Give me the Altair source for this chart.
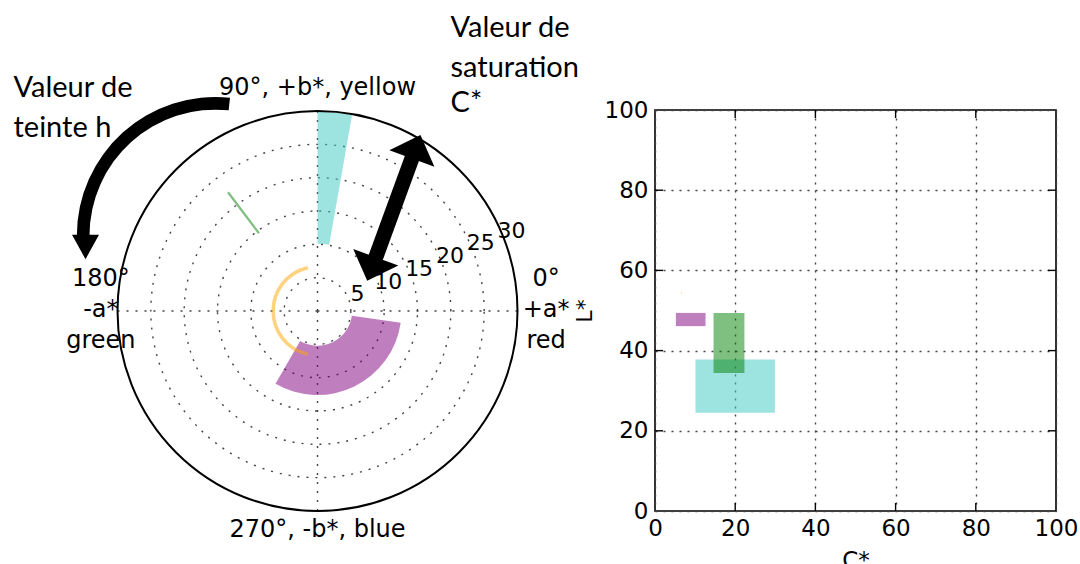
import math
import altair as alt
import pandas as pd

# ---------------- data ----------------
sample = ["turquoise", "purple", "green", "orange"]
hue_min = [80, 240, 127, 104]          # h (deg)
hue_max = [90, 352, 127, 256]
chroma_min = [10.1, 5.2, 14.6, 6.55]   # C*
chroma_max = [29.9, 12.6, 22.3, 6.75]
light_min = [24.5, 46.1, 34.4, 54.2]   # L*
light_max = [37.8, 49.4, 49.4, 54.6]
sample_color = ["#3cc8c0", "#800080", "#008000", "#ffa500"]
wedge_samples = ["turquoise", "purple"]
line_samples = ["green", "orange"]

# polar axis
radial_ticks = [5, 10, 15, 20, 25, 30]
radial_label_angle = 22.5
side_tick_angles = [0, 180]
side_tick_labels = ["0°\n+a*\nred", "180°\n-a*\ngreen"]
side_label_radius = [34.3, 32.5]
vert_tick_angles = [90, 270]
vert_tick_labels = ["90°, +b*, yellow", "270°, -b*, blue"]
vert_label_radius = [33.4, 32.8]
spoke_angles = [0, 90, 180, 270]

# cartesian axes
c_ticks = [0, 20, 40, 60, 80, 100]
l_ticks = [0, 20, 40, 60, 80, 100]
inner_ticks = [20, 40, 60, 80]

# annotations, in (a*, b*) coordinates of the polar panel
ann_text = ["Valeur de", "teinte h", "Valeur de", "saturation", "C*"]
ann_a = [-45.6, -45.6, 19.95, 19.95, 19.95]
ann_b = [32.1, 26.1, 41.1, 35.1, 29.9]

hue_arrow = dict(a=[-15.3], b=[11.3], h0=[84], h1=[180], r0=[18.9], r1=[20.8])
hue_arrow_head = dict(a=[-34.8], b=[9.6], ang=[0])
sat_arrow_shaft = dict(a0=[14.8], b0=[24.64], a1=[8.1], b1=[6.3])
sat_arrow_heads = dict(a=[14.8, 8.1], b=[24.64, 6.3], ang=[20.1, 200.1])

# ---------------- scales ----------------
VIEW_X, VIEW_Y = 655, 110   # page position of the C*/L* plot area
polar_x = alt.Scale(domain=[-30, 30], range=[117.5 - VIEW_X, 517.5 - VIEW_X], nice=False, zero=False)
polar_y = alt.Scale(domain=[-30, 30], range=[511 - VIEW_Y, 111 - VIEW_Y], nice=False, zero=False)
theta_sc = alt.Scale(domain=[0, 360], range=[math.pi / 2, math.pi / 2 - 2 * math.pi], nice=False, zero=False)
rad_sc = alt.Scale(type="linear", domain=[0, 30], range=[0, 200], nice=False, zero=True)
cx_scale = alt.Scale(domain=[0, 100], nice=False, zero=False)
ly_scale = alt.Scale(domain=[0, 100], nice=False, zero=False)
color_sc = alt.Scale(domain=sample, range=sample_color)

FONT = "DejaVu Sans"

df = pd.DataFrame(dict(name=sample, h0=hue_min, h1=hue_max, c0=chroma_min, c1=chroma_max,
                       l0=light_min, l1=light_max))
df["ca"] = 0
df["cb"] = 0


def centre():
    return dict(x=alt.X("ca:Q", scale=polar_x, axis=None), y=alt.Y("cb:Q", scale=polar_y, axis=None))


def pxy(xf, yf):
    return dict(x=alt.X(xf, scale=polar_x, axis=None), y=alt.Y(yf, scale=polar_y, axis=None))


# ---------------- polar panel ----------------
gdf = pd.DataFrame({"r": radial_ticks})
gdf["h0"] = 0
gdf["h1"] = 360
gdf["ca"] = 0
gdf["cb"] = 0

grid_circles = alt.Chart(gdf).transform_filter("datum.r < 30").mark_arc(
    fillOpacity=0, stroke="#444444", strokeWidth=1.4, strokeDash=[2, 7]
).encode(
    theta=alt.Theta("h0:Q", scale=theta_sc, stack=False), theta2="h1:Q",
    radius=alt.Radius("r:Q", scale=rad_sc, stack=False), **centre()
)
outer_circle = alt.Chart(gdf).transform_filter("datum.r >= 30").mark_arc(
    fillOpacity=0, stroke="black", strokeWidth=2
).encode(
    theta=alt.Theta("h0:Q", scale=theta_sc, stack=False), theta2="h1:Q",
    radius=alt.Radius("r:Q", scale=rad_sc, stack=False), **centre()
)

sdf = pd.DataFrame({"h": spoke_angles})
sdf["ca"] = 0
sdf["cb"] = 0
spokes = alt.Chart(sdf).transform_calculate(
    ex="30*cos(datum.h*PI/180)", ey="30*sin(datum.h*PI/180)"
).mark_rule(stroke="#444444", strokeWidth=1.4, strokeDash=[2, 7]).encode(
    x2="ex:Q", y2="ey:Q", **centre()
)

wedges = alt.Chart(df).transform_filter(
    alt.FieldOneOfPredicate(field="name", oneOf=wedge_samples)
).mark_arc(opacity=0.5).encode(
    theta=alt.Theta("h0:Q", scale=theta_sc, stack=False), theta2="h1:Q",
    radius=alt.Radius("c1:Q", scale=rad_sc, stack=False), radius2="c0:Q",
    color=alt.Color("name:N", scale=color_sc, legend=None), **centre()
)
thin = alt.Chart(df).transform_filter(
    alt.FieldOneOfPredicate(field="name", oneOf=line_samples)
).mark_arc(fillOpacity=0, strokeWidth=2.2, strokeOpacity=0.5).encode(
    theta=alt.Theta("h0:Q", scale=theta_sc, stack=False), theta2="h1:Q",
    radius=alt.Radius("c1:Q", scale=rad_sc, stack=False), radius2="c0:Q",
    stroke=alt.Stroke("name:N", scale=color_sc, legend=None), **centre()
)

side_df = pd.DataFrame(dict(h=side_tick_angles, r=side_label_radius, text=side_tick_labels))
side_labels = alt.Chart(side_df).transform_calculate(
    tx="datum.r*cos(datum.h*PI/180)", ty="datum.r*sin(datum.h*PI/180)"
).mark_text(font=FONT, fontSize=24, lineBreak="\n", lineHeight=31, baseline="middle",
            align="center", color="black", dy=-32).encode(
    text="text:N", **pxy("tx:Q", "ty:Q")
)
vert_df = pd.DataFrame(dict(h=vert_tick_angles, r=vert_label_radius, text=vert_tick_labels))
vert_labels = alt.Chart(vert_df).transform_calculate(
    tx="datum.r*cos(datum.h*PI/180)", ty="datum.r*sin(datum.h*PI/180)"
).mark_text(font=FONT, fontSize=24, baseline="middle", align="center", color="black").encode(
    text="text:N", **pxy("tx:Q", "ty:Q")
)

rdf = pd.DataFrame({"r": radial_ticks})
rdf["h"] = radial_label_angle
radial_labels = alt.Chart(rdf).transform_calculate(
    tx="(datum.r+1.5)*cos(datum.h*PI/180)", ty="(datum.r+1.5)*sin(datum.h*PI/180)"
).mark_text(font=FONT, fontSize=22, baseline="middle", align="center", color="black").encode(
    text=alt.Text("r:Q"), **pxy("tx:Q", "ty:Q")
)

adf = pd.DataFrame(dict(text=ann_text, a=ann_a, b=ann_b))
ann_labels = alt.Chart(adf).mark_text(font="Lato", fontSize=29, align="left",
                                      baseline="alphabetic", color="black").encode(
    text="text:N", **pxy("a:Q", "b:Q")
)

hue_arc = alt.Chart(pd.DataFrame(hue_arrow)).mark_arc(color="black").encode(
    theta=alt.Theta("h0:Q", scale=theta_sc, stack=False), theta2="h1:Q",
    radius=alt.Radius("r1:Q", scale=rad_sc, stack=False), radius2="r0:Q",
    **pxy("a:Q", "b:Q")
)
hue_head = alt.Chart(pd.DataFrame(hue_arrow_head)).mark_point(
    shape="M-1,-0.9L1,-0.9L0,0.9Z", filled=True, color="black", opacity=1, size=729
).encode(
    angle=alt.Angle("ang:Q", scale=None), **pxy("a:Q", "b:Q")
)
sat_shaft = alt.Chart(pd.DataFrame(sat_arrow_shaft)).mark_rule(color="black", strokeWidth=15).encode(
    x2="a1:Q", y2="b1:Q", **pxy("a0:Q", "b0:Q")
)
sat_heads = alt.Chart(pd.DataFrame(sat_arrow_heads)).mark_point(
    shape="M0,-0.52L1,0.52L-1,0.52Z", filled=True, color="black", opacity=1, size=2304
).encode(
    angle=alt.Angle("ang:Q", scale=None), **pxy("a:Q", "b:Q")
)

polar_group = alt.layer(
    grid_circles, spokes, wedges, thin, outer_circle, side_labels, vert_labels, radial_labels,
    hue_arc, hue_head, sat_shaft, sat_heads, ann_labels
)

# ---------------- C* / L* panel ----------------
x_axis = alt.Axis(orient="bottom", values=c_ticks, title="C*", grid=True, gridDash=[2, 6],
                  gridColor="#444444", gridWidth=1.4, ticks=False, domain=False,
                  labelFont=FONT, labelFontSize=23, labelColor="black", labelPadding=6,
                  labelFlush=False, labelOverlap=False,
                  titleFont=FONT, titleFontSize=23, titleFontWeight="normal",
                  titleColor="black", titlePadding=9)
y_axis = alt.Axis(orient="left", values=l_ticks, title="L*", grid=True, gridDash=[2, 6],
                  gridColor="#444444", gridWidth=1.4, ticks=False, domain=False,
                  labelFont=FONT, labelFontSize=23, labelColor="black", labelPadding=7,
                  labelFlush=False, labelOverlap=False,
                  titleFont=FONT, titleFontSize=22, titleFontWeight="normal",
                  titleColor="black", titlePadding=8)

rects = alt.Chart(df).mark_rect(opacity=0.5).encode(
    x=alt.X("c0:Q", scale=cx_scale, axis=x_axis), x2="c1:Q",
    y=alt.Y("l0:Q", scale=ly_scale, axis=y_axis), y2="l1:Q",
    color=alt.Color("name:N", scale=color_sc, legend=None)
)

tick_len = 2.0
rows = []
for t in inner_ticks:
    rows.append(dict(x=0, x2=tick_len, y=t, y2=t))
    rows.append(dict(x=100 - tick_len, x2=100, y=t, y2=t))
    rows.append(dict(x=t, x2=t, y=0, y2=tick_len))
    rows.append(dict(x=t, x2=t, y=100 - tick_len, y2=100))
inner = alt.Chart(pd.DataFrame(rows)).mark_rule(color="black", strokeWidth=1.4).encode(
    x=alt.X("x:Q", scale=cx_scale, axis=x_axis), x2="x2:Q",
    y=alt.Y("y:Q", scale=ly_scale, axis=y_axis), y2="y2:Q"
)

right_group = alt.layer(rects, inner)

chart = alt.layer(right_group, polar_group).resolve_scale(
    x="independent", y="independent"
).properties(
    width=401, height=401,
    padding={"left": VIEW_X, "top": VIEW_Y, "right": 1080 - VIEW_X - 401, "bottom": 564 - VIEW_Y - 401},
    autosize=alt.AutoSizeParams(type="none"),
    background="white",
).configure_view(stroke="black", strokeWidth=1.6)

chart.save("out.html", embed_options={"renderer": "svg", "actions": False})
